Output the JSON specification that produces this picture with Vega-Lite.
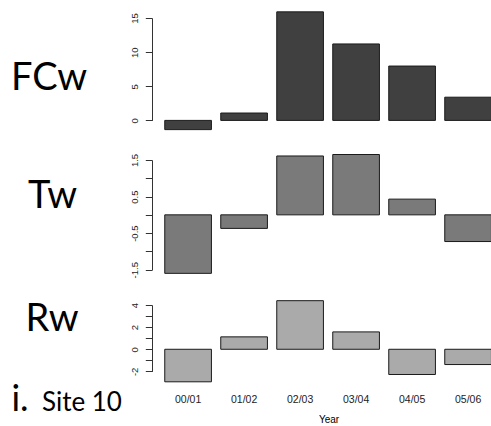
{
  "$schema": "https://vega.github.io/schema/vega-lite/v6.json",
  "background": "white",
  "padding": {"top": 11, "left": 10, "right": 0, "bottom": 0},
  "spacing": 22,
  "data": {"values": [
    {"year": "00/01", "var": "FCw", "value": -1.35},
    {"year": "01/02", "var": "FCw", "value": 1.08},
    {"year": "02/03", "var": "FCw", "value": 15.9},
    {"year": "03/04", "var": "FCw", "value": 11.2},
    {"year": "04/05", "var": "FCw", "value": 7.96},
    {"year": "05/06", "var": "FCw", "value": 3.4},
    {"year": "00/01", "var": "Tw", "value": -1.6},
    {"year": "01/02", "var": "Tw", "value": -0.37},
    {"year": "02/03", "var": "Tw", "value": 1.61},
    {"year": "03/04", "var": "Tw", "value": 1.65},
    {"year": "04/05", "var": "Tw", "value": 0.43},
    {"year": "05/06", "var": "Tw", "value": -0.73},
    {"year": "00/01", "var": "Rw", "value": -2.94},
    {"year": "01/02", "var": "Rw", "value": 1.12},
    {"year": "02/03", "var": "Rw", "value": 4.39},
    {"year": "03/04", "var": "Rw", "value": 1.57},
    {"year": "04/05", "var": "Rw", "value": -2.28},
    {"year": "05/06", "var": "Rw", "value": -1.38}
  ]},
  "title": {"text": "i.", "orient": "bottom", "anchor": "start", "frame": "bounds", "font": "Lato", "fontSize": 36, "fontWeight": "normal", "color": "black", "baseline": "alphabetic", "dx": 1, "dy": -17},
  "vconcat": [
    {
      "width": 341, "height": 102.4,
      "transform": [{"filter": "datum.var == 'FCw'"}],
      "mark": {"type": "bar", "fill": "#404040", "stroke": "#1a1a1a", "strokeWidth": 1},
      "encoding": {
        "x": {"field": "year", "type": "nominal", "sort": null, "scale": {"paddingInner": 0.1667, "paddingOuter": 0.128, "align": 0.89}, "axis": null},
        "y": {"field": "value", "type": "quantitative", "scale": {"domain": [0, 15], "nice": false, "zero": false},
          "axis": {"title": "FCw", "values": [0, 5, 10, 15], "labelExpr": "toString(datum.value)", "titleX": -103.5, "titleY": 71.7}},
        "y2": {"datum": 0}
      }
    },
    {
      "width": 341, "height": 109.7,
      "transform": [{"filter": "datum.var == 'Tw'"}],
      "mark": {"type": "bar", "fill": "#7a7a7a", "stroke": "#1a1a1a", "strokeWidth": 1},
      "encoding": {
        "x": {"field": "year", "type": "nominal", "sort": null, "scale": {"paddingInner": 0.1667, "paddingOuter": 0.128, "align": 0.89}, "axis": null},
        "y": {"field": "value", "type": "quantitative", "scale": {"domain": [-1.5, 1.5], "nice": false, "zero": false},
          "axis": {"title": "Tw", "values": [-1.5, -1, -0.5, 0, 0.5, 1, 1.5], "labelExpr": "abs(round(datum.value * 2)) % 2 == 1 ? toString(datum.value) : ''", "titleX": -100, "titleY": 47.7}},
        "y2": {"datum": 0}
      }
    },
    {
      "width": 341, "height": 66.4,
      "title": {"text": "Site 10", "orient": "bottom", "anchor": "start", "frame": "bounds", "font": "Lato", "fontSize": 26, "fontWeight": "normal", "color": "black", "baseline": "alphabetic", "dx": 17, "dy": -17},
      "transform": [{"filter": "datum.var == 'Rw'"}],
      "mark": {"type": "bar", "fill": "#aaaaaa", "stroke": "#1a1a1a", "strokeWidth": 1},
      "encoding": {
        "x": {"field": "year", "type": "nominal", "sort": null, "scale": {"paddingInner": 0.1667, "paddingOuter": 0.128, "align": 0.89},
          "axis": {"title": "Year", "ticks": false, "tickSize": 0, "domain": false, "labelAngle": 0, "labelPadding": 23, "labelFontSize": 10.5, "titleFontSize": 10, "titleFontWeight": "normal", "titleX": 176.5, "titleY": 51, "titleAlign": "center", "titleBaseline": "alphabetic"}},
        "y": {"field": "value", "type": "quantitative", "scale": {"domain": [-2, 4], "nice": false, "zero": false},
          "axis": {"title": "Rw", "values": [-2, -1, 0, 1, 2, 3, 4], "labelExpr": "datum.value % 2 == 0 ? toString(datum.value) : ''", "titleX": -100.5, "titleY": 25.7}},
        "y2": {"datum": 0}
      }
    }
  ],
  "config": {
    "font": "Liberation Sans",
    "view": {"stroke": null},
    "axis": {"labelFont": "Liberation Sans", "labelColor": "#222", "titleColor": "black", "titleFont": "Liberation Sans", "grid": false, "domainColor": "#333", "tickColor": "#333", "labelFontSize": 9.5},
    "axisY": {"tickSize": 6.7, "labelAngle": 270, "labelAlign": "center", "labelBaseline": "bottom", "labelPadding": 6, "titleAngle": 0, "titleFont": "Lato", "titleFontSize": 38, "titleFontWeight": "normal", "titleAlign": "center", "titleBaseline": "alphabetic"}
  }
}
